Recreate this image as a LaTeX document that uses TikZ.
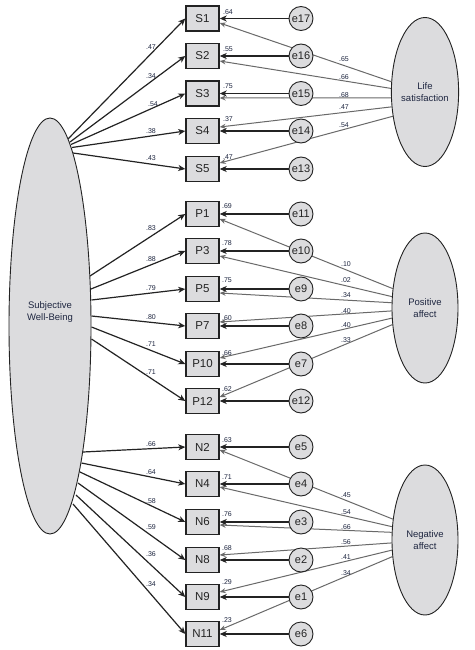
\documentclass[tikz,border=0pt]{standalone}
\usepackage{fontspec}
\setmainfont{Liberation Sans}
\usetikzlibrary{shapes.geometric,arrows.meta,backgrounds}
\definecolor{fillg}{RGB}{220,220,222}
\definecolor{lineg}{RGB}{105,105,105}
\definecolor{txt}{RGB}{30,38,64}
\definecolor{blk}{RGB}{35,35,35}
\pgfdeclarelayer{back}
\pgfdeclarelayer{lines}
\pgfsetlayers{back,lines,main}
\tikzset{
  obsbox/.style={draw=blk,line width=1.4pt,fill=fillg,minimum width=33pt,minimum height=25pt,inner sep=0pt,font=\fontsize{11.5}{13}\selectfont,text=blk},
  errc/.style={circle,draw=blk,line width=0.9pt,fill=fillg,minimum size=24pt,inner sep=0pt,font=\fontsize{11}{12}\selectfont,text=blk},
  latent/.style={ellipse,draw=blk,line width=0.9pt,fill=fillg,inner sep=0pt,font=\fontsize{9.5}{12.5}\selectfont,text=txt,align=center},
  blkarr/.style={draw=blk,line width=1.2pt,-{Stealth[length=7pt,width=6pt,inset=2pt]}},
  grayarr/.style={draw=lineg,line width=1pt,-{Stealth[length=6pt,width=5pt,inset=2pt]}},
  lbl/.style={inner sep=0pt,font=\fontsize{7}{8}\selectfont,text=txt},
}
\begin{document}
\begin{tikzpicture}[x=1pt,y=-1pt]
\begin{pgfonlayer}{back}
\fill[white] (0,0) rectangle (474,650);
\end{pgfonlayer}
\useasboundingbox (0,0) rectangle (474,650);

% latent variables
\node[latent,minimum width=82pt,minimum height=416pt] (swb) at (50,326) {};
\node[txt,font=\fontsize{9.5}{12.5}\selectfont,align=center] (swbl) at (50,312) {Subjective\\Well-Being};
\node[latent,minimum width=66pt,minimum height=149pt] (ls) at (425,92) {Life\\satisfaction};
\node[latent,minimum width=66pt,minimum height=150pt] (pa) at (425,308) {Positive\\affect};
\node[latent,minimum width=66pt,minimum height=150pt] (na) at (425,540) {Negative\\affect};

% start points on the SWB ellipse border
\coordinate (a1) at (68,139);
\coordinate (a2) at (70,142);
\coordinate (a3) at (71,144.5);
\coordinate (a4) at (72,147.5);
\coordinate (a5) at (73,153);
\coordinate (b1) at (90,276);
\coordinate (b2) at (91,289);
\coordinate (b3) at (91.5,300);
\coordinate (b4) at (91.5,316);
\coordinate (b5) at (91.5,327);
\coordinate (b6) at (91.5,339);
\coordinate (c1) at (83,452);
\coordinate (c2) at (81.5,463);
\coordinate (c3) at (80,472);
\coordinate (c4) at (78,483);
\coordinate (c5) at (76,495);
\coordinate (c6) at (73,504);

% observed boxes
\node[obsbox] (S1) at (202.5,18.5) {S1};
\node[obsbox] (S2) at (202.5,56) {S2};
\node[obsbox] (S3) at (202.5,93.5) {S3};
\node[obsbox] (S4) at (202.5,131) {S4};
\node[obsbox] (S5) at (202.5,169) {S5};
\node[obsbox] (P1) at (202.5,214) {P1};
\node[obsbox] (P3) at (202.5,251) {P3};
\node[obsbox] (P5) at (202.5,289) {P5};
\node[obsbox] (P7) at (202.5,326) {P7};
\node[obsbox] (P10) at (202.5,364) {P10};
\node[obsbox] (P12) at (202.5,401) {P12};
\node[obsbox] (N2) at (202.5,447) {N2};
\node[obsbox] (N4) at (202.5,484) {N4};
\node[obsbox] (N6) at (202.5,522) {N6};
\node[obsbox] (N8) at (202.5,560) {N8};
\node[obsbox] (N9) at (202.5,597) {N9};
\node[obsbox] (N11) at (202.5,634) {N11};

% error circles
\node[errc] (e17) at (301,18.5) {e17};
\node[errc] (e16) at (301,56) {e16};
\node[errc] (e15) at (301,93.5) {e15};
\node[errc] (e14) at (301,131) {e14};
\node[errc] (e13) at (301,169) {e13};
\node[errc] (e11) at (301,214) {e11};
\node[errc] (e10) at (301,251) {e10};
\node[errc] (e9) at (301,289) {e9};
\node[errc] (e8) at (301,326) {e8};
\node[errc] (e7) at (301,364) {e7};
\node[errc] (e12) at (301,401) {e12};
\node[errc] (e5) at (301,447) {e5};
\node[errc] (e4) at (301,484) {e4};
\node[errc] (e3) at (301,522) {e3};
\node[errc] (e2) at (301,560) {e2};
\node[errc] (e1) at (301,597) {e1};
\node[errc] (e6) at (301,634) {e6};

\begin{pgfonlayer}{lines}
% SWB loadings
\foreach \s/\b in {a1/S1,a2/S2,a3/S3,a4/S4,a5/S5,b1/P1,b2/P3,b3/P5,b4/P7,b5/P10,b6/P12,c1/N2,c2/N4,c3/N6,c4/N8,c5/N9,c6/N11}
  \draw[blkarr] (\s) -- (\b.west);
% method factor loadings (gray)
\draw[grayarr] (ls.163) -- ([yshift=-4.5pt]S1.east);
\draw[grayarr] (ls.174.8) -- ([yshift=-5pt]S2.east);
\draw[grayarr] (ls.190.3) -- ([yshift=-4.5pt]S3.east);
\draw[grayarr] (ls.204.9) -- ([yshift=4pt]S4.east);
\draw[grayarr] (ls.217.5) -- ([yshift=6pt]S5.east);
\draw[grayarr] (pa.149.2) -- ([yshift=-5pt]P1.east);
\draw[grayarr] (pa.161.4) -- ([yshift=-5pt]P3.east);
\draw[grayarr] (pa.171.3) -- ([yshift=-4pt]P5.east);
\draw[grayarr] (pa.185.2) -- ([yshift=4pt]P7.east);
\draw[grayarr] (pa.197.1) -- ([yshift=6pt]P10.east);
\draw[grayarr] (pa.207.9) -- ([yshift=4pt]P12.east);
\draw[grayarr] (na.147.8) -- ([yshift=-3pt]N2.east);
\draw[grayarr] (na.158.2) -- ([yshift=-3pt]N4.east);
\draw[grayarr] (na.167.9) -- ([yshift=-3pt]N6.east);
\draw[grayarr] (na.185.2) -- ([yshift=5pt]N8.east);
\draw[grayarr] (na.197.1) -- ([yshift=5pt]N9.east);
\draw[grayarr] (na.207.9) -- ([yshift=4pt]N11.east);
% error arrows
\foreach \e/\b in {e17/S1,e16/S2,e15/S3,e14/S4,e13/S5,e11/P1,e10/P3,e9/P5,e8/P7,e7/P10,e12/P12,e5/N2,e4/N4,e3/N6,e2/N8,e1/N9,e6/N11}
  \draw[blkarr] (\e.west) -- (\b.east);
\end{pgfonlayer}

% SWB loading labels
\node[lbl] (l1) at (151,47) {.47};
\node[lbl] (l2) at (151,76) {.34};
\node[lbl] (l3) at (153,104) {.54};
\node[lbl] (l4) at (151,131) {.38};
\node[lbl] (l5) at (151,158) {.43};
\node[lbl] (l6) at (151,228) {.83};
\node[lbl] (l7) at (151,259) {.88};
\node[lbl] (l8) at (151,288) {.79};
\node[lbl] (l9) at (151,317) {.80};
\node[lbl] (l10) at (151,344) {.71};
\node[lbl] (l11) at (151,372) {.71};
\node[lbl] (l12) at (151,444) {.66};
\node[lbl] (l13) at (151,472) {.64};
\node[lbl] (l14) at (151,501) {.58};
\node[lbl] (l15) at (151,527) {.59};
\node[lbl] (l16) at (151,554) {.36};
\node[lbl] (l17) at (151,584) {.34};

% squared multiple correlations
\node[lbl] (r1) at (228,12) {.64};
\node[lbl] (r2) at (228,49) {.55};
\node[lbl] (r3) at (228,86) {.75};
\node[lbl] (r4) at (228,119) {.37};
\node[lbl] (r5) at (228,157) {.47};
\node[lbl] (r6) at (227,206) {.69};
\node[lbl] (r7) at (227,243) {.78};
\node[lbl] (r8) at (227,280) {.75};
\node[lbl] (r9) at (227,318) {.60};
\node[lbl] (r10) at (227,353) {.66};
\node[lbl] (r11) at (227,389) {.62};
\node[lbl] (r12) at (227,440) {.63};
\node[lbl] (r13) at (227,477) {.71};
\node[lbl] (r14) at (227,514) {.76};
\node[lbl] (r15) at (227,548) {.68};
\node[lbl] (r16) at (227,582) {.29};
\node[lbl] (r17) at (227,620) {.23};

% method loading labels
\node[lbl] (m1) at (344,59) {.65};
\node[lbl] (m2) at (344,77) {.66};
\node[lbl] (m3) at (344,95) {.68};
\node[lbl] (m4) at (344,107) {.47};
\node[lbl] (m5) at (344,125) {.54};
\node[lbl] (m6) at (346,264) {.10};
\node[lbl] (m7) at (346,280) {.02};
\node[lbl] (m8) at (346,295) {.34};
\node[lbl] (m9) at (346,311) {.40};
\node[lbl] (m10) at (346,325) {.40};
\node[lbl] (m11) at (346,340) {.33};
\node[lbl] (m12) at (346,495) {.45};
\node[lbl] (m13) at (346,512) {.54};
\node[lbl] (m14) at (346,527) {.66};
\node[lbl] (m15) at (346,542) {.56};
\node[lbl] (m16) at (346,557) {.41};
\node[lbl] (m17) at (346,573) {.34};
\end{tikzpicture}
\end{document}
